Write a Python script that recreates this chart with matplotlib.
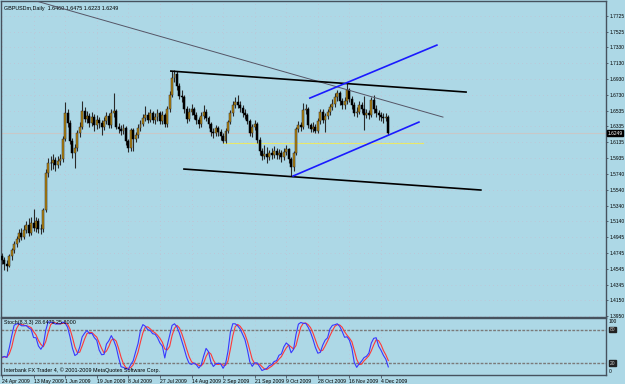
import numpy as np
import pandas as pd
import matplotlib
matplotlib.use("Agg")
import matplotlib.pyplot as plt
from matplotlib.transforms import blended_transform_factory

plt.rcParams["font.family"] = ["Liberation Sans", "DejaVu Sans"]

# GBPUSDm daily, 24 Apr 2009 .. 9 Dec 2009
closes = [1.4650, 1.4600, 1.4580, 1.4700, 1.4780, 1.4850, 1.4920, 1.4990, 1.4950, 1.5030,
          1.5100, 1.5000, 1.5120, 1.5060, 1.5150, 1.5050, 1.5040, 1.5280, 1.5750, 1.5880,
          1.5870, 1.5910, 1.5850, 1.5900, 1.5920, 1.6180, 1.6500, 1.6380, 1.6150, 1.6000,
          1.6070, 1.6250, 1.6330, 1.6530, 1.6430, 1.6470, 1.6380, 1.6450, 1.6350, 1.6420,
          1.6380, 1.6330, 1.6400, 1.6470, 1.6350, 1.6500, 1.6530, 1.6330, 1.6300, 1.6280,
          1.6310, 1.6150, 1.6060, 1.6290, 1.6180, 1.6230, 1.6320, 1.6370, 1.6440, 1.6480,
          1.6420, 1.6500, 1.6420, 1.6450, 1.6500, 1.6400, 1.6480, 1.6360, 1.6550, 1.6730,
          1.6940, 1.7000, 1.6850, 1.6720, 1.6700, 1.6550, 1.6430, 1.6520, 1.6550, 1.6480,
          1.6420, 1.6360, 1.6470, 1.6520, 1.6440, 1.6360, 1.6270, 1.6250, 1.6310, 1.6260,
          1.6220, 1.6150, 1.6280, 1.6390, 1.6500, 1.6600, 1.6640, 1.6610, 1.6570, 1.6500,
          1.6480, 1.6400, 1.6250, 1.6330, 1.6360, 1.6170, 1.6020, 1.5960, 1.5990, 1.5950,
          1.6000, 1.5980, 1.6030, 1.5970, 1.6000, 1.5950, 1.6010, 1.6050, 1.5920, 1.5820,
          1.6000, 1.6300, 1.6350, 1.6330, 1.6540, 1.6560, 1.6350, 1.6300, 1.6330, 1.6280,
          1.6400, 1.6520, 1.6420, 1.6470, 1.6520, 1.6580, 1.6620, 1.6700, 1.6760, 1.6650,
          1.6600, 1.6650, 1.6790, 1.6680, 1.6600, 1.6510, 1.6520, 1.6600, 1.6560, 1.6480,
          1.6500, 1.6480, 1.6667, 1.6560, 1.6500, 1.6480, 1.6460, 1.6440, 1.6460, 1.6249]
highs = [1.4740, 1.4690, 1.4650, 1.4730, 1.4810, 1.4890, 1.4960, 1.5040, 1.5060, 1.5090,
         1.5150, 1.5180, 1.5200, 1.5300, 1.5200, 1.5180, 1.5110, 1.5310, 1.5800, 1.5940,
         1.5960, 1.5990, 1.5950, 1.5960, 1.5990, 1.6220, 1.6640, 1.6560, 1.6420, 1.6190,
         1.6120, 1.6290, 1.6390, 1.6660, 1.6580, 1.6530, 1.6510, 1.6520, 1.6490, 1.6480,
         1.6460, 1.6420, 1.6450, 1.6520, 1.6500, 1.6560, 1.6750, 1.6560, 1.6380, 1.6350,
         1.6360, 1.6340, 1.6180, 1.6320, 1.6310, 1.6270, 1.6360, 1.6420, 1.6490, 1.6590,
         1.6520, 1.6560, 1.6530, 1.6510, 1.6560, 1.6530, 1.6530, 1.6500, 1.6590, 1.6780,
         1.7030, 1.7043, 1.7030, 1.6880, 1.6790, 1.6730, 1.6590, 1.6570, 1.6620, 1.6580,
         1.6520, 1.6460, 1.6520, 1.6600, 1.6560, 1.6470, 1.6390, 1.6320, 1.6350, 1.6340,
         1.6300, 1.6250, 1.6310, 1.6420, 1.6540, 1.6650, 1.6700, 1.6730, 1.6650, 1.6600,
         1.6550, 1.6510, 1.6430, 1.6370, 1.6420, 1.6390, 1.6200, 1.6060, 1.6100, 1.6080,
         1.6040, 1.6060, 1.6090, 1.6060, 1.6050, 1.6040, 1.6060, 1.6100, 1.6070, 1.5950,
         1.6030, 1.6330, 1.6400, 1.6390, 1.6630, 1.6620, 1.6580, 1.6380, 1.6390, 1.6360,
         1.6440, 1.6560, 1.6550, 1.6510, 1.6560, 1.6620, 1.6680, 1.6750, 1.6793, 1.6780,
         1.6690, 1.6700, 1.6878, 1.6820, 1.6720, 1.6640, 1.6580, 1.6660, 1.6640, 1.6720,
         1.6560, 1.6540, 1.6700, 1.6730, 1.6600, 1.6540, 1.6520, 1.6500, 1.6510, 1.6475]
lows = [1.4610, 1.4530, 1.4520, 1.4560, 1.4660, 1.4740, 1.4820, 1.4880, 1.4900, 1.4920,
        1.4990, 1.4960, 1.4970, 1.5020, 1.5010, 1.5000, 1.4980, 1.5010, 1.5260, 1.5700,
        1.5790, 1.5800, 1.5770, 1.5810, 1.5850, 1.5890, 1.6150, 1.6330, 1.6110, 1.5940,
        1.5810, 1.6030, 1.6200, 1.6300, 1.6390, 1.6380, 1.6330, 1.6340, 1.6280, 1.6300,
        1.6320, 1.6230, 1.6290, 1.6370, 1.6310, 1.6320, 1.6460, 1.6300, 1.6250, 1.6230,
        1.6240, 1.6100, 1.6010, 1.6030, 1.6030, 1.6140, 1.6190, 1.6280, 1.6340, 1.6400,
        1.6380, 1.6390, 1.6380, 1.6370, 1.6410, 1.6360, 1.6370, 1.6330, 1.6330, 1.6520,
        1.6700, 1.6900, 1.6800, 1.6680, 1.6640, 1.6500, 1.6380, 1.6400, 1.6480, 1.6430,
        1.6370, 1.6320, 1.6330, 1.6430, 1.6400, 1.6310, 1.6220, 1.6190, 1.6220, 1.6210,
        1.6170, 1.6126, 1.6130, 1.6250, 1.6360, 1.6470, 1.6570, 1.6570, 1.6520, 1.6460,
        1.6430, 1.6360, 1.6210, 1.6200, 1.6290, 1.6130, 1.5980, 1.5910, 1.5920, 1.5880,
        1.5910, 1.5920, 1.5940, 1.5920, 1.5930, 1.5890, 1.5910, 1.5970, 1.5870, 1.5707,
        1.5780, 1.5970, 1.6260, 1.6280, 1.6300, 1.6490, 1.6310, 1.6260, 1.6270, 1.6250,
        1.6250, 1.6370, 1.6380, 1.6265, 1.6430, 1.6480, 1.6540, 1.6580, 1.6660, 1.6610,
        1.6550, 1.6560, 1.6620, 1.6640, 1.6560, 1.6470, 1.6460, 1.6490, 1.6510, 1.6290,
        1.6440, 1.6430, 1.6450, 1.6510, 1.6460, 1.6420, 1.6400, 1.6380, 1.6400, 1.6223]
first_open = 1.4700
opens = [first_open] + closes[:-1]

date_labels = ["24 Apr 2009", "13 May 2009", "1 Jun 2009", "19 Jun 2009", "8 Jul 2009",
               "27 Jul 2009", "14 Aug 2009", "2 Sep 2009", "21 Sep 2009", "9 Oct 2009",
               "28 Oct 2009", "16 Nov 2009", "4 Dec 2009"]
date_step = 13
price_ticks = [1.7725, 1.7525, 1.7330, 1.7130, 1.6930, 1.6730, 1.6535, 1.6335, 1.6135, 1.5935,
               1.5740, 1.5540, 1.5340, 1.5140, 1.4945, 1.4745, 1.4545, 1.4345, 1.4150, 1.3950]
last_price = 1.6249

# chart objects (bar index, price)
gray_trend = ([12.8, 181.5], [1.7925, 1.6453])
upper_line = ([69.5, 191.0], [1.7032, 1.6768])
lower_line = ([74.9, 197.1], [1.5799, 1.5535])
blue_upper = ([126.7, 179.0], [1.6692, 1.7359])
blue_lower = ([119.8, 171.6], [1.5711, 1.6390])
yellow_level = ([90.9, 173.3], 1.6126)

bg = "#add8e6"
frame = "#46525e"
fs = 3.9
fs_r = 3.5

df = pd.DataFrame({"o": opens, "h": highs, "l": lows, "c": closes})
n = len(df)
x = np.arange(n)

# Stochastic 8,3,3
ll = df["l"].rolling(8, min_periods=1).min()
hh = df["h"].rolling(8, min_periods=1).max()
num = (df["c"] - ll).rolling(3, min_periods=1).sum()
den = (hh - ll).rolling(3, min_periods=1).sum()
k_line = 100 * num / den
d_line = k_line.rolling(3, min_periods=1).mean()

W, H = 625, 384
fig = plt.figure(figsize=(6.25, 3.84), dpi=100)
fig.patch.set_facecolor(bg)

ax = fig.add_axes([1 / W, 1 - 317 / H, 605 / W, 316 / H])
ax2 = fig.add_axes([1 / W, 1 - 375 / H, 605 / W, 57 / H])

for a in (ax, ax2):
    a.set_facecolor(bg)
    for s in a.spines.values():
        s.set_color(frame)
        s.set_linewidth(1.0)
    a.set_xlim(-0.41, 248.6)

ax.set_ylim(1.3937, 1.7914)
ax2.set_ylim(-0.6, 100.4)

# faint dotted grid
for p in price_ticks:
    ax.axhline(p, color="#c9b9cc", lw=0.5, ls=(0, (1, 5)), zorder=0)
for k in range(len(date_labels)):
    ax.axvline(k * date_step, color="#c9b9cc", lw=0.5, ls=(0, (1, 5)), zorder=0)
    ax2.axvline(k * date_step, color="#c9b9cc", lw=0.5, ls=(0, (1, 5)), zorder=0)

# bid line and horizontal level
ax.axhline(last_price, color="#c8c8c8", lw=0.8, zorder=1)
ax.plot(yellow_level[0], [yellow_level[1]] * 2, color="#e8e86a", lw=0.8, zorder=1)

# candles
bull = df["c"] >= df["o"]
ax.vlines(x, df["l"], df["h"], color="#2a2a2a", lw=0.8, zorder=2)
body_bottom = np.minimum(df["o"], df["c"])
body_h = np.maximum(np.abs(df["c"] - df["o"]), 0.0006)
ax.bar(x[bull], body_h[bull], bottom=body_bottom[bull], width=0.8,
       color="#b8860b", edgecolor="#2a2a2a", linewidth=0.35, zorder=3)
ax.bar(x[~bull], body_h[~bull], bottom=body_bottom[~bull], width=0.8,
       color="black", edgecolor="black", linewidth=0.35, zorder=3)

# trend lines
ax.plot(*gray_trend, color="#555566", lw=0.7, zorder=4)
ax.plot(*upper_line, color="black", lw=1.2, zorder=4)
ax.plot(*lower_line, color="black", lw=1.2, zorder=4)
ax.plot(*blue_upper, color="#1a1aff", lw=1.2, zorder=4)
ax.plot(*blue_lower, color="#1a1aff", lw=1.2, zorder=4)

# price axis on the right
ax.yaxis.tick_right()
ax.set_yticks(price_ticks)
ax.set_yticklabels([f"{p:.4f}" for p in price_ticks])
ax.tick_params(axis="y", right=True, length=1.5, width=0.6, color=frame, pad=1,
               labelsize=fs_r, labelcolor="black")
ax.tick_params(axis="x", bottom=False, labelbottom=False)
ax.text(1.003, last_price, f"{last_price:.4f}",
        transform=blended_transform_factory(ax.transAxes, ax.transData),
        fontsize=fs_r, color="white", va="center", ha="left",
        bbox=dict(boxstyle="square,pad=0.1", fc="black", ec="black"))

ax.text(0.005, 0.985, "GBPUSDm,Daily  1.6460 1.6475 1.6223 1.6249", transform=ax.transAxes,
        fontsize=fs, va="top", ha="left", color="black")

# stochastic panel
ax2.axhline(80, color="#7a7a7a", lw=1.0, ls=(0, (2, 1)))
ax2.axhline(20, color="#7a7a7a", lw=1.0, ls=(0, (2, 1)))
ax2.plot(x, d_line, color="#ff3838", lw=0.8)
ax2.plot(x, k_line, color="#3838ff", lw=0.8)
ax2.set_yticks([])
ax2.set_xticks([k * date_step for k in range(len(date_labels))])
ax2.set_xticklabels(date_labels)
ax2.tick_params(axis="x", length=2, width=0.6, color=frame, pad=1, labelsize=3.7)
for lab in ax2.get_xticklabels():
    lab.set_horizontalalignment("left")

tr = blended_transform_factory(ax2.transAxes, ax2.transData)
ax2.text(1.005, 99, "100", transform=tr, fontsize=fs_r, va="top", ha="left")
ax2.text(1.005, 1, "0", transform=tr, fontsize=fs_r, va="bottom", ha="left")
for lv in (80, 20):
    ax2.text(1.006, lv, str(lv), transform=tr, fontsize=fs_r, va="center", ha="left", color="#cccccc",
             bbox=dict(boxstyle="square,pad=0.1", fc="#222222", ec="#222222"))
ax2.text(0.005, 0.97, "Stoch(8,3,3) 28.6479 25.8000", transform=ax2.transAxes,
         fontsize=fs, va="top", ha="left")
ax2.text(0.005, 0.03, "Interbank FX Trader 4, \u00a9 2001-2009 MetaQuotes Software Corp.",
         transform=ax2.transAxes, fontsize=fs, va="bottom", ha="left")

fig.savefig("out.png", dpi=100, facecolor=bg)
